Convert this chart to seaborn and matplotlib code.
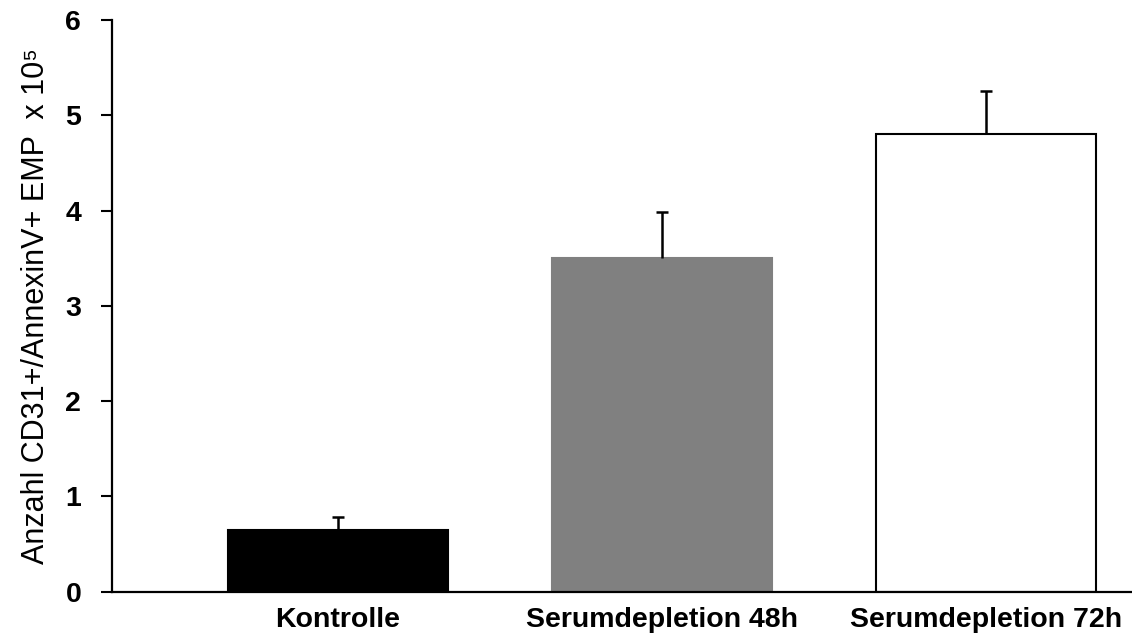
import matplotlib
matplotlib.use("Agg")
import matplotlib.pyplot as plt
import seaborn as sns
import pandas as pd

# Data
categories = ["Kontrolle", "Serumdepletion 48h", "Serumdepletion 72h"]
means = [0.65, 3.50, 4.80]
errors = [0.13, 0.48, 0.45]
bar_colors = ["#000000", "#808080", "#ffffff"]
edge_colors = ["#000000", "#808080", "#000000"]
y_ticks = [0, 1, 2, 3, 4, 5, 6]

sns.set_style("white")
plt.rcParams["font.family"] = ["Liberation Sans", "DejaVu Sans"]
plt.rcParams["text.color"] = "black"
plt.rcParams["axes.labelcolor"] = "black"
plt.rcParams["xtick.color"] = "black"
plt.rcParams["ytick.color"] = "black"

df = pd.DataFrame({"Gruppe": categories, "Anzahl": means})

fig = plt.figure(figsize=(11.32, 6.38), dpi=100)
ax = fig.add_axes([0.0987, 0.0726, 0.9013, 0.8961])

sns.barplot(data=df, x="Gruppe", y="Anzahl", hue="Gruppe", palette=bar_colors,
            width=0.68, linewidth=1.5, errorbar=None,
            legend=False, ax=ax, zorder=2)
for patch, ec in zip(ax.patches, edge_colors):
    patch.set_edgecolor(ec)

# upper error bars only
_, caps, _ = ax.errorbar(range(len(categories)), means,
                         yerr=[[0] * len(errors), errors],
                         fmt="none", ecolor="black", elinewidth=1.8,
                         capsize=4.3, capthick=1.8, zorder=3)
caps[0].set_visible(False)

ax.set_xlim(-0.698, 2.45)
ax.set_ylim(0, 6)
ax.set_yticks(y_ticks)
ax.set_yticklabels([str(t) for t in y_ticks], fontsize=20.5, fontweight="bold")
ax.set_xticks(range(len(categories)))
ax.set_xticklabels(categories, fontsize=20.5, fontweight="bold")
ax.tick_params(axis="y", direction="out", length=8, width=1.5, pad=14, left=True,
               colors="black")
ax.tick_params(axis="x", length=0, pad=11, colors="black")

ax.set_xlabel("")
ax.set_ylabel("Anzahl CD31+/AnnexinV+ EMP  x 10\u2075", fontsize=22, labelpad=10,
              color="black")

for side in ["top", "right"]:
    ax.spines[side].set_visible(False)
for side in ["left", "bottom"]:
    ax.spines[side].set_linewidth(1.6)
    ax.spines[side].set_color("black")

fig.savefig("out.png", dpi=100)
